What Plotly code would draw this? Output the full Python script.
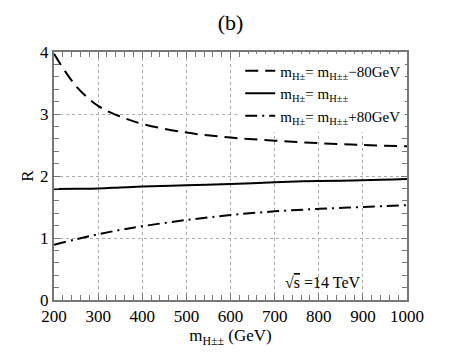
import plotly.graph_objs as go

# DATA
m_hpp = [200, 250, 300, 350, 400, 500, 600, 700, 800, 900, 1000]
r_minus80 = [3.97, 3.45, 3.13, 2.96, 2.84, 2.70, 2.62, 2.57, 2.53, 2.50, 2.48]
r_equal = [1.79, 1.795, 1.80, 1.815, 1.83, 1.85, 1.87, 1.90, 1.92, 1.93, 1.95]
r_plus80 = [0.89, 0.98, 1.06, 1.13, 1.19, 1.29, 1.37, 1.43, 1.47, 1.50, 1.53]

FONT = "Liberation Serif"

fig = go.Figure()
fig.add_trace(go.Scatter(x=m_hpp, y=r_minus80, mode="lines", line_shape="spline",
                         name="m<sub>H±</sub>= m<sub>H±±</sub>−80GeV",
                         line=dict(color="black", width=2, dash="13px,7px")))
fig.add_trace(go.Scatter(x=m_hpp, y=r_equal, mode="lines", line_shape="spline",
                         name="m<sub>H±</sub>= m<sub>H±±</sub>",
                         line=dict(color="black", width=2)))
fig.add_trace(go.Scatter(x=m_hpp, y=r_plus80, mode="lines", line_shape="spline",
                         name="m<sub>H±</sub>= m<sub>H±±</sub>+80GeV",
                         line=dict(color="black", width=2, dash="12px,5px,2px,5px")))

axis_common = dict(showline=True, linecolor="#777777", linewidth=2, mirror="ticks",
                   ticks="inside", ticklen=6, tickcolor="#777777", tickwidth=1,
                   showgrid=True, gridcolor="#aaaaaa", griddash="dot", gridwidth=1,
                   zeroline=False, automargin=False,
                   tickfont=dict(family=FONT, size=17, color="black"))

fig.update_xaxes(range=[200, 1000], dtick=100, tick0=200, ticklabelstandoff=0,
                 minor=dict(dtick=20, ticks="inside", ticklen=5, tickcolor="#777777", showgrid=False),
                 title=dict(text="m<sub>H±±</sub> (GeV)", font=dict(family=FONT, size=17), standoff=0),
                 **axis_common)
fig.update_yaxes(range=[0, 4], dtick=1, ticklabelstandoff=0,
                 minor=dict(dtick=0.2, ticks="inside", ticklen=5, tickcolor="#777777", showgrid=False),
                 title=dict(text="R", font=dict(family=FONT, size=17), standoff=2),
                 **axis_common)

fig.add_annotation(x=0.875, y=0.069, xref="paper", yref="paper", showarrow=False,
                   xanchor="right", yanchor="middle",
                   text="√<span style='text-decoration:overline'>s</span> =14 TeV",
                   font=dict(family=FONT, size=16, color="black"))

# page body adds an 8px offset, so the figure is drawn 8px smaller
fig.update_layout(
    width=450, height=346,
    margin=dict(l=46, r=51, t=44, b=54),
    paper_bgcolor="white", plot_bgcolor="white",
    title=dict(text="(b)", x=0.5, xanchor="center", y=0.96, yanchor="middle",
               xref="paper", automargin=False,
               font=dict(family=FONT, size=22, color="black")),
    font=dict(family=FONT, color="black"),
    legend=dict(x=0.995, y=0.99, xanchor="right", yanchor="top", bgcolor="white",
                font=dict(family=FONT, size=15), tracegroupgap=0, itemwidth=30),
    showlegend=True,
)

fig.write_html("out.html")
